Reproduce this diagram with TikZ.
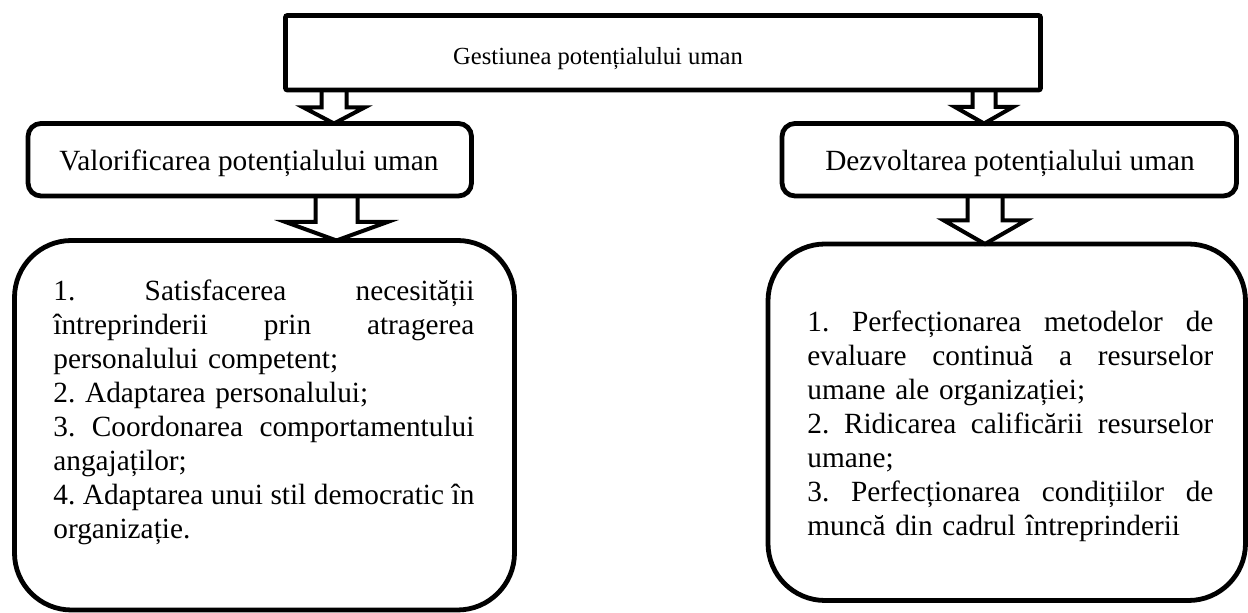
\documentclass[tikz,border=0pt]{standalone}
\usepackage{fontspec}
\setmainfont{Liberation Serif}
\usetikzlibrary{calc}
% column widths of the two lists
\newlength\lcolw \setlength\lcolw{210.5pt}
\newlength\rcolw \setlength\rcolw{203pt}
% one justified line of a list item: width, text
\newcommand\jline[2]{\leavevmode\hbox to #1{\spaceskip=0.25em plus 1fil\relax #2}}
% hollow block arrow: start, tip, half shaft, half head, head length
\newcommand\blockarrow[5]{%
  \draw[barrow] ($(#1)+(-#3,0)$) -- ($(#2)+(-#3,-#5)$) -- ($(#2)+(-#4,-#5)$)
    -- (#2) -- ($(#2)+(#4,-#5)$) -- ($(#2)+(#3,-#5)$) -- ($(#1)+(#3,0)$);}
\tikzset{
  box/.style={draw, line width=2.4pt, inner sep=0pt, outer sep=0pt},
  barrow/.style={draw, line width=2pt},
  smalltxt/.style={font=\fontsize{12.3}{14.8}\selectfont, inner sep=0pt},
  bigtxt/.style={font=\fontsize{14.65}{17}\selectfont\frenchspacing, inner sep=0pt},
}
\begin{document}
\begin{tikzpicture}[x=0.5pt,y=-0.5pt]
\useasboundingbox[fill=white] (0,0) rectangle (1248,613);

% boxes
\node[box, rounded corners=1pt, minimum width=377.5pt, minimum height=37.25pt] (top) at (663,52.75) {};
\node[box, rounded corners=6.5pt, minimum width=221.75pt, minimum height=36.25pt] (lmid) at (249.75,159.75) {};
\node[box, rounded corners=6.5pt, minimum width=227.25pt, minimum height=36.25pt] (rmid) at (1009.25,159.75) {};
\node[box, rounded corners=28.5pt, minimum width=250pt, minimum height=184.75pt] (lbot) at (264.5,425.25) {};
\node[box, rounded corners=28.5pt, minimum width=238.75pt, minimum height=178.25pt] (rbot) at (1006.75,422.25) {};

% labels
\node[smalltxt, anchor=base] (toplbl) at (598,65) {Gestiunea potențialului uman};
\node[bigtxt, anchor=base] (lmidlbl) at (249,171) {Valorificarea potențialului uman};
\node[bigtxt, anchor=base] (rmidlbl) at (1010,171) {Dezvoltarea potențialului uman};

\node[bigtxt, text width=\lcolw, align=left, anchor=base west] (ltxt) at (53,300.7)
  {\jline{\lcolw}{1. Satisfacerea necesității}\\
   \jline{\lcolw}{întreprinderii prin atragerea}\\
   personalului competent;\\
   2. Adaptarea personalului;\\
   \jline{\lcolw}{3. Coordonarea comportamentului}\\
   angajaților;\\
   \jline{\lcolw}{4. Adaptarea unui stil democratic în}\\
   organizație.};

\node[bigtxt, text width=\rcolw, align=left, anchor=base west] (rtxt) at (807,331.7)
  {\jline{\rcolw}{1. Perfecționarea metodelor de}\\
   \jline{\rcolw}{evaluare continuă a resurselor}\\
   umane ale organizației;\\
   \jline{\rcolw}{2. Ridicarea calificării resurselor}\\
   umane;\\
   \jline{\rcolw}{3. Perfecționarea condițiilor de}\\
   muncă din cadrul întreprinderii};

% arrow axes
\coordinate (ax1) at (334,0);
\coordinate (ax2) at (984,0);
\coordinate (ax3) at (336.5,0);
\coordinate (ax4) at (985,0);

\blockarrow{top.south -| ax1}{lmid.north -| ax1}{12.5}{30.5}{16}
\blockarrow{top.south -| ax2}{rmid.north -| ax2}{11.5}{29}{16.5}
\blockarrow{lmid.south -| ax3}{lbot.north -| ax3}{21}{51}{18.5}
\blockarrow{rmid.south -| ax4}{rbot.north -| ax4}{17.5}{41}{23.5}
\end{tikzpicture}
\end{document}
